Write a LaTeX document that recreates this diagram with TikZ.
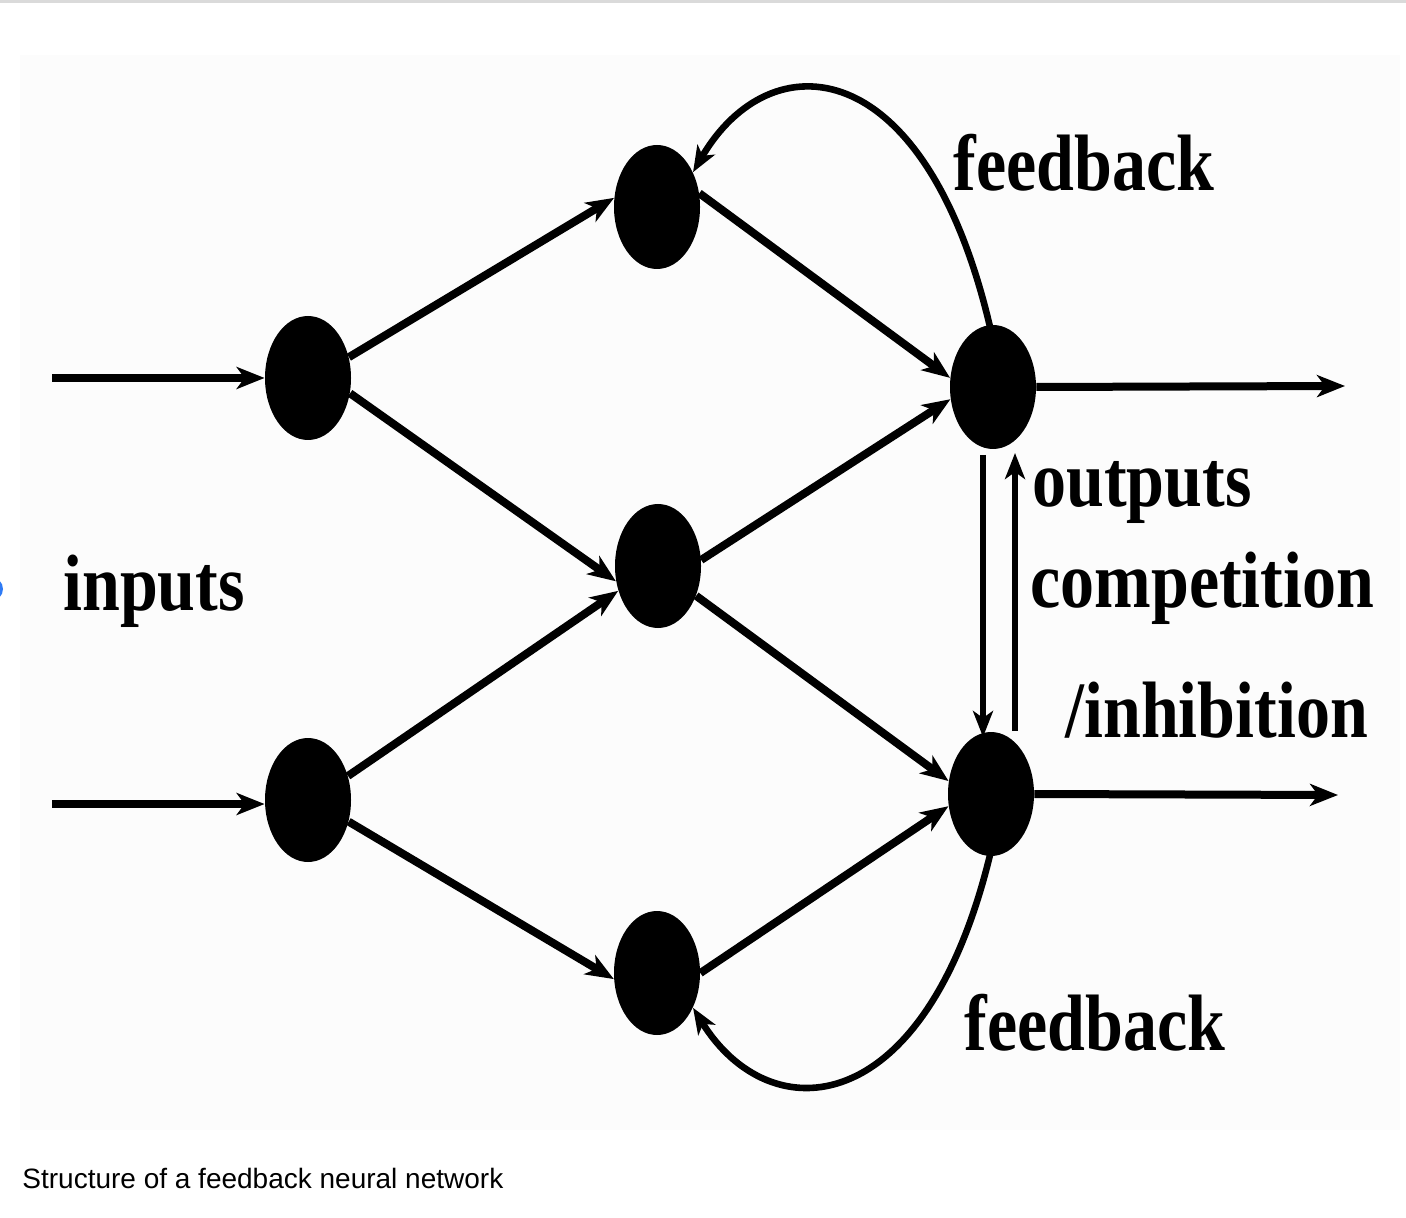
\documentclass[tikz,border=0pt]{standalone}
\usepackage{fontspec}
\setmainfont{Liberation Serif}
\newfontfamily\capfont{Liberation Sans}
\usetikzlibrary{shapes.geometric,arrows.meta}
\definecolor{panel}{HTML}{FCFCFC}
\definecolor{topline}{HTML}{DADADA}
\definecolor{dotblue}{HTML}{2F7BF5}
\begin{document}
\begin{tikzpicture}[x=0.5pt,y=-0.5pt,
  neuron/.style={ellipse,fill=black,draw=none,minimum width=43pt,minimum height=62pt,inner sep=0pt},
  conn/.style={line width=4pt,-{Stealth[length=14pt,width=11pt,inset=4pt]}},
  thinconn/.style={line width=3.3pt,-{Stealth[length=13pt,width=10pt,inset=3.5pt]}},
  lbl/.style={anchor=base west,inner sep=0pt,font=\bfseries\fontsize{40pt}{40pt}\selectfont},
  caption/.style={anchor=base west,inner sep=0pt,font=\capfont\fontsize{14pt}{15pt}\selectfont}]
\useasboundingbox (0,0) rectangle (1406,1218);
\fill[white] (0,0) rectangle (1406,1218);
\fill[topline] (0,0) rectangle (1406,3);
\fill[panel] (20,55) rectangle (1400,1130);
\begin{scope}
\clip (0,0) rectangle (1406,1218);
\fill[dotblue] (-9,589) circle[radius=12];
\end{scope}
% neurons
\node[neuron] (I1) at (308,378) {};
\node[neuron] (I2) at (308,800) {};
\node[neuron] (H1) at (657,207) {};
\node[neuron] (H2) at (658,566) {};
\node[neuron] (H3) at (657,973) {};
\node[neuron] (O1) at (993,387) {};
\node[neuron] (O2) at (991,794) {};
% free ends
\coordinate (in1) at (52,378);
\coordinate (in2) at (52,804);
\coordinate (out1) at (1345,386);
\coordinate (out2) at (1338,795);
\coordinate (dA) at (983,455);
\coordinate (dB) at (983,737);
\coordinate (uA) at (1015,731);
\coordinate (uB) at (1015,453);
\coordinate (fbT) at (990,327);
\coordinate (fbB) at (990,855);
% inputs and outputs
\draw[conn] (in1) -- (I1.west);
\draw[conn] (in2) -- (I2.west |- in2);
\draw[conn] (O1.east) -- (out1);
\draw[conn] (O2.east) -- (out2);
% layer connections
\draw[conn] (I1.27) -- (H1.168);
\draw[conn] (I1.-20) -- (H2.200);
\draw[conn] (I2.31) -- (H2.212);
\draw[conn] (I2.-28) -- (H3.188);
\draw[conn] (H1.18) -- (O1.168);
\draw[conn] (H2.8) -- (O1.196);
\draw[conn] (H2.-38) -- (O2.163);
\draw[conn] (H3.0) -- (O2.196);
% competition arrows
\draw[thinconn] (dA) -- (dB);
\draw[thinconn] (uA) -- (uB);
% feedback
\draw[thinconn] (fbT) .. controls (925,50) and (770,40) .. (H1.44);
\draw[thinconn] (fbB) .. controls (925,1122) and (770,1132) .. (H3.-44);
% labels
\node[lbl] (tfb) at (953,191) {\scalebox{0.85}[1]{feedback}};
\node[lbl] (tin) at (63,610) {\scalebox{0.85}[1]{inputs}};
\node[lbl] (tout) at (1032,507) {\scalebox{0.85}[1]{outputs}};
\node[lbl] (tcomp) at (1030,607) {\scalebox{0.85}[1]{competition}};
\node[lbl] (tinh) at (1065,737) {\scalebox{0.85}[1]{/inhibition}};
\node[lbl] (bfb) at (964,1050) {\scalebox{0.85}[1]{feedback}};
\node[caption] (cap) at (22,1188) {Structure of a feedback neural network};
\end{tikzpicture}
\end{document}
